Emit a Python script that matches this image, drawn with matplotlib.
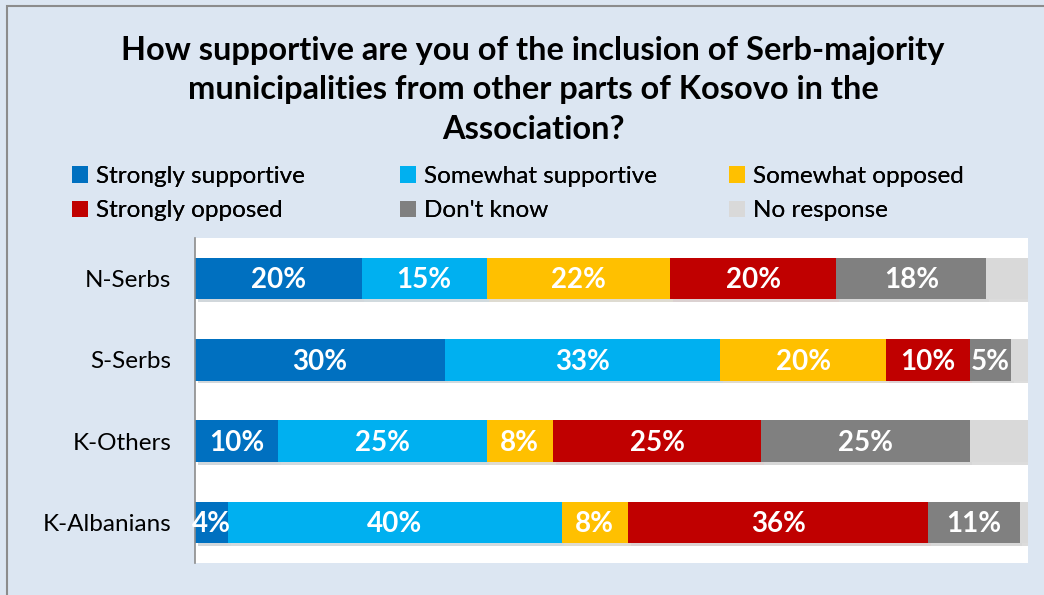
import numpy as np
import matplotlib.pyplot as plt
from matplotlib.patches import Patch, Rectangle
import matplotlib.patheffects as pe

# Survey answers per group (percent)
groups = ["N-Serbs", "S-Serbs", "K-Others", "K-Albanians"]
answers = ["Strongly supportive", "Somewhat supportive", "Somewhat opposed",
           "Strongly opposed", "Don't know", "No response"]
strongly_supportive = [20, 30, 10, 4]
somewhat_supportive = [15, 33, 25, 40]
somewhat_opposed = [22, 20, 8, 8]
strongly_opposed = [20, 10, 25, 36]
dont_know = [18, 5, 25, 11]
no_response = [5, 2, 7, 1]

colors = ["#0070C0", "#00B0F0", "#FFC000", "#C00000", "#808080", "#D9D9D9"]
bg = "#DCE6F2"

plt.rcParams['font.family'] = ['Lato', 'DejaVu Sans']

series = [strongly_supportive, somewhat_supportive, somewhat_opposed,
          strongly_opposed, dont_know, no_response]

fig = plt.figure(figsize=(10.44, 5.95), dpi=100, facecolor=bg)
# chart frame line
fig.patches.append(Rectangle((7 / 1044, -0.1), 1.2, 1 - 6 / 595 + 0.1,
                             transform=fig.transFigure, fill=False,
                             edgecolor="#8C8C8C", linewidth=1.5))

ax = fig.add_axes([195 / 1044, 1 - 563 / 595, (1028 - 195) / 1044, (563 - 238) / 595])
ax.set_facecolor("white")

y = np.arange(len(groups))
left = np.zeros(len(groups))
shadow = [pe.SimplePatchShadow(offset=(2, -2), alpha=0.18), pe.Normal()]
for i, (vals, col) in enumerate(zip(series, colors)):
    vals = np.array(vals, dtype=float)
    bars = ax.barh(y, vals, left=left, height=0.51, color=col, linewidth=0)
    for b in bars:
        b.set_path_effects(shadow)
    if i < 5:
        for yy, l, v in zip(y, left, vals):
            ax.text(l + v / 2, yy + 0.02, f"{v:.0f}%", ha="center", va="center",
                    color="white", fontsize=20, fontweight="bold")
    left += vals

ax.set_xlim(0, 100)
ax.set_ylim(3.5, -0.5)
ax.set_yticks(y)
ax.set_yticklabels(groups, fontsize=17.5)
ax.tick_params(axis="y", length=0, pad=17)
ax.set_xticks([])
for s in ["top", "right", "bottom"]:
    ax.spines[s].set_visible(False)
ax.spines["left"].set_color("#8C8C8C")
ax.spines["left"].set_linewidth(1.2)

fig.text(533 / 1044, 1 - 90 / 595,
         "How supportive are you of the inclusion of Serb-majority\n"
         "municipalities from other parts of Kosovo in the\nAssociation?",
         ha="center", va="center", fontsize=23.4, fontweight="bold",
         linespacing=1.45)

# legend: one two-row column per x position
handles = [Patch(facecolor=c, label=a) for c, a in zip(colors, answers)]
col_x = [72, 400, 729]
for k, x0 in enumerate(col_x):
    leg = fig.legend([handles[k], handles[k + 3]], [answers[k], answers[k + 3]],
                     frameon=False, fontsize=17.5, loc="upper left",
                     bbox_to_anchor=(x0 / 1044, 1 - 166 / 595),
                     handlelength=0.65, handleheight=0.65, handletextpad=0.35,
                     labelspacing=0.55, borderaxespad=0, borderpad=0)
    fig.add_artist(leg)

fig.savefig("out.png", dpi=100, facecolor=bg)
